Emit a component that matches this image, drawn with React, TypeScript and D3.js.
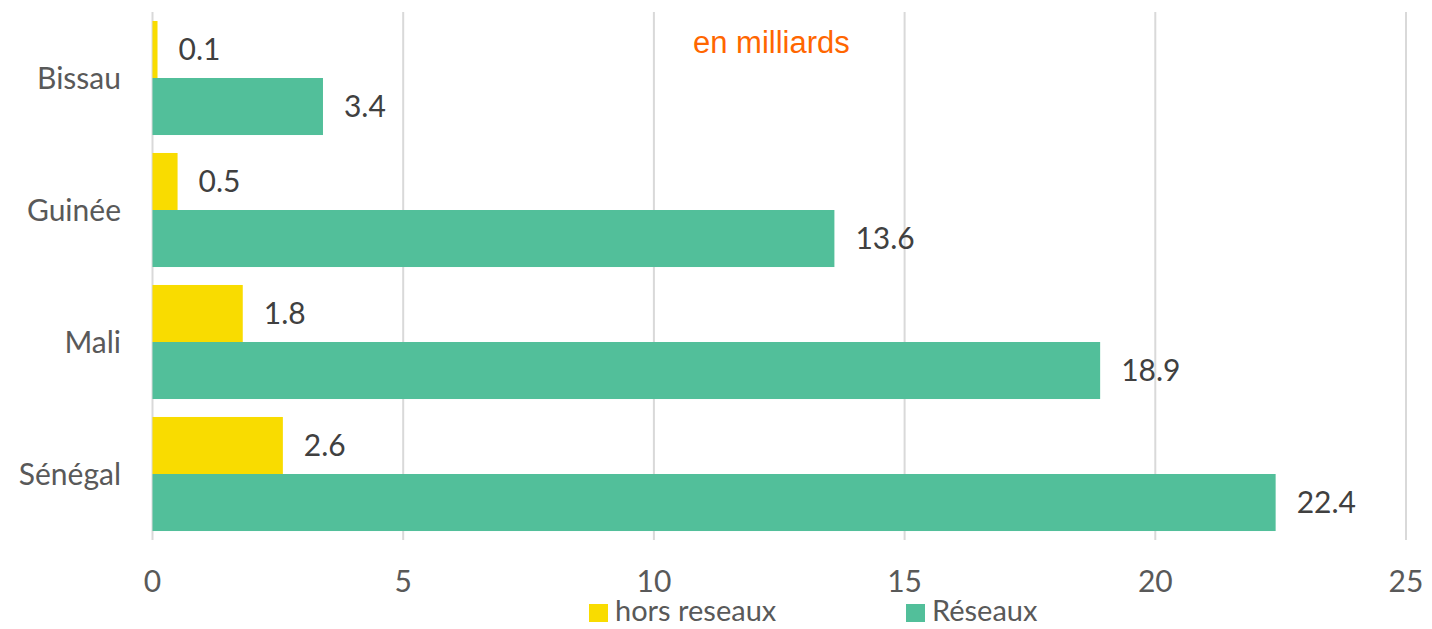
import * as d3 from 'd3'

const countries = ['Bissau', 'Guinée', 'Mali', 'Sénégal']
const seriesNames = ['hors reseaux', 'Réseaux']
const horsReseaux = [0.1, 0.5, 1.8, 2.6]
const reseaux = [3.4, 13.6, 18.9, 22.4]
const xTicks = [0, 5, 10, 15, 20, 25]
const colors = ['#F9DC00', '#52BF9A']

const W = 1432
const H = 629
const FONT = 'Lato, "Open Sans", sans-serif'

export default function App() {
  const x = d3.scaleLinear().domain([0, 25]).range([152.5, 1406])
  const y = d3.scaleBand().domain(countries).range([12, 540]).paddingInner(0.136).paddingOuter(0.068)
  const sub = d3.scaleBand().domain(seriesNames).range([0, y.bandwidth()])
  const values = [horsReseaux, reseaux]
  const legendX = [589, 906]

  return (
    <svg width={W} height={H} style={{ position: 'absolute', left: 0, top: 0, background: '#fff' }}>
      {xTicks.map((t) => (
        <line key={'g' + t} x1={x(t)} x2={x(t)} y1={12} y2={540} stroke="#D9D9D9" strokeWidth={2} />
      ))}
      {countries.map((c, i) =>
        seriesNames.map((s, j) => {
          const v = values[j][i]
          const by = (y(c) ?? 0) + (sub(s) ?? 0)
          return (
            <g key={c + s}>
              <rect x={x(0)} y={by} width={x(v) - x(0)} height={sub.bandwidth()} fill={colors[j]} />
              <text x={x(v) + 21} y={by + sub.bandwidth() / 2} dy="0.35em" fill="#404040" fontSize={30} fontFamily={FONT}>
                {v.toFixed(1)}
              </text>
            </g>
          )
        })
      )}
      {countries.map((c) => (
        <text key={'l' + c} x={121} y={(y(c) ?? 0) + y.bandwidth() / 2} dy="0.35em" textAnchor="end" fill="#595959" fontSize={30} fontFamily={FONT}>
          {c}
        </text>
      ))}
      {xTicks.map((t) => (
        <text key={'t' + t} x={x(t)} y={581} dy="0.35em" textAnchor="middle" fill="#595959" fontSize={30} fontFamily={FONT}>
          {t}
        </text>
      ))}
      <text x={693} y={42} dy="0.35em" fill="#FF6600" fontSize={31} fontFamily='"Liberation Sans", Arial, sans-serif'>
        en milliards
      </text>
      {seriesNames.map((s, j) => (
        <g key={'lg' + s}>
          <rect x={legendX[j]} y={604} width={19} height={18} fill={colors[j]} />
          <text x={legendX[j] + 26} y={611} dy="0.35em" fill="#595959" fontSize={29} fontFamily={FONT}>
            {s}
          </text>
        </g>
      ))}
    </svg>
  )
}
